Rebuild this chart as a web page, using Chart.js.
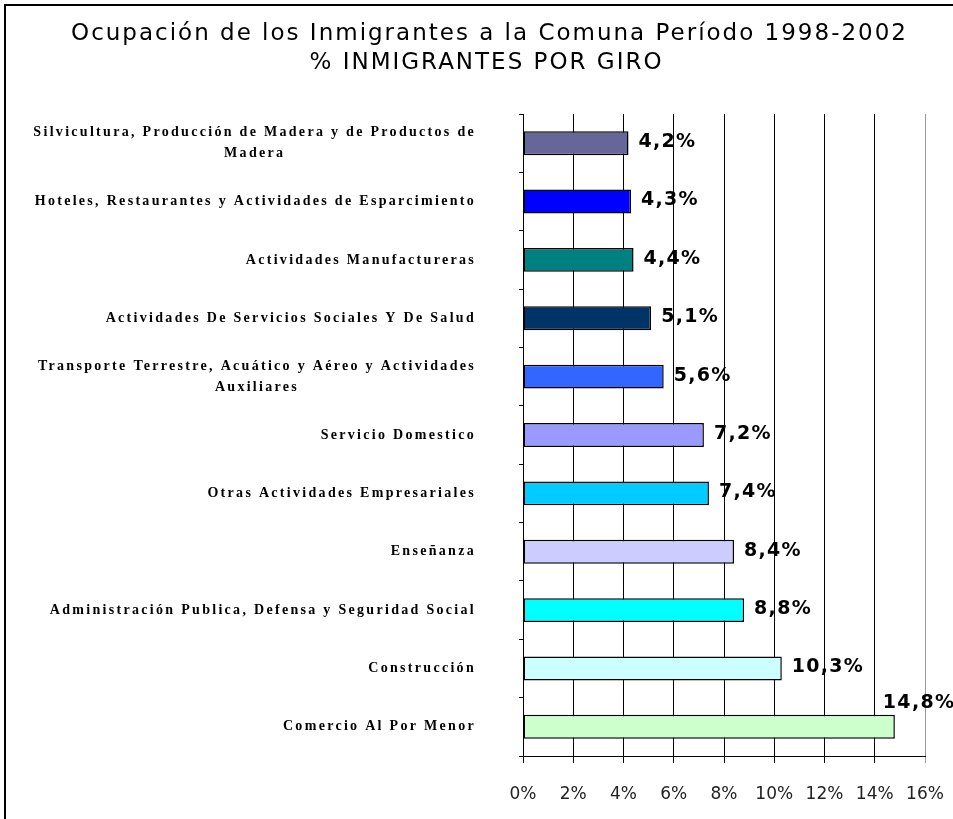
<!DOCTYPE html>
<html>
<head>
<meta charset="utf-8">
<script src="https://cdn.jsdelivr.net/npm/chart.js@4"></script>
<style>
    body { margin: 0; background: #fff; }
    #wrap { position: relative; width: 953px; height: 819px; }
</style>
</head>
<body>
<div id="wrap"><canvas id="myChart" width="953" height="819"></canvas></div>
<script>
"use strict";
var titulo = ["Ocupación de los Inmigrantes a la Comuna Período 1998-2002", "% INMIGRANTES POR GIRO"];
var giros = [
    ["Silvicultura, Producción de Madera y de Productos de", "Madera"],
    ["Hoteles, Restaurantes y Actividades de Esparcimiento"],
    ["Actividades Manufactureras"],
    ["Actividades De Servicios Sociales Y De Salud"],
    ["Transporte Terrestre, Acuático y Aéreo y Actividades", "Auxiliares"],
    ["Servicio Domestico"],
    ["Otras Actividades Empresariales"],
    ["Enseñanza"],
    ["Administración Publica, Defensa y Seguridad Social"],
    ["Construcción"],
    ["Comercio Al Por Menor"]
];
var porcentajes = [4.2, 4.3, 4.4, 5.1, 5.6, 7.2, 7.4, 8.4, 8.8, 10.3, 14.8];
var cores = ["#666699", "#0000FF", "#008080", "#003366", "#3366FF", "#9999FF",
    "#00CCFF", "#CCCCFF", "#00FFFF", "#CCFFFF", "#CCFFCC"];
var xTicks = [0, 2, 4, 6, 8, 10, 12, 14, 16];

// marco del grafico (solo se ven borde izquierdo y superior) y titulo espaciado
var marco = {
    id: 'marco',
    beforeDraw: function (chart) {
        var ctx = chart.ctx;
        ctx.save();
        ctx.fillStyle = '#fff';
        ctx.fillRect(0, 0, chart.width, chart.height);
        ctx.strokeStyle = '#000';
        ctx.lineWidth = 2;
        ctx.strokeRect(5, 5, chart.width + 20, chart.height + 20);
        ctx.font = '23px "DejaVu Sans"';
        ctx.letterSpacing = '2px';
        ctx.fillStyle = '#000';
        ctx.textAlign = 'center';
        ctx.textBaseline = 'middle';
        var cx = (chart.width + 26) / 2;
        ctx.fillText(titulo[0], cx, 34);
        ctx.fillText(titulo[1], cx - 3, 63);
        ctx.restore();
    }
};

// etiquetas de categorias, espaciadas como en la planilla
var etiquetasY = {
    id: 'etiquetasY',
    afterDraw: function (chart) {
        var ctx = chart.ctx;
        var y = chart.scales.y;
        var derecha = y.right - 47;
        ctx.save();
        ctx.font = 'bold 14px "Liberation Serif"';
        ctx.letterSpacing = '2.3px';
        ctx.fillStyle = '#000';
        ctx.textAlign = 'center';
        ctx.textBaseline = 'middle';
        for (var i = 0; i < giros.length; i++) {
            var lineas = giros[i];
            var ancho = 0;
            for (var j = 0; j < lineas.length; j++) {
                ancho = Math.max(ancho, ctx.measureText(lineas[j]).width);
            }
            var cy = y.getPixelForTick(i) - (lineas.length - 1) * 10.5;
            for (var j = 0; j < lineas.length; j++) {
                ctx.fillText(lineas[j], derecha - ancho / 2, cy + j * 21);
            }
        }
        ctx.restore();
    }
};

// valores al final de cada barra
var valores = {
    id: 'valores',
    afterDatasetsDraw: function (chart) {
        var ctx = chart.ctx;
        var meta = chart.getDatasetMeta(0);
        ctx.save();
        ctx.font = 'bold 19px "DejaVu Sans"';
        ctx.letterSpacing = '1.3px';
        ctx.fillStyle = '#000';
        ctx.textAlign = 'left';
        ctx.textBaseline = 'middle';
        meta.data.forEach(function (bar, i) {
            var txt = porcentajes[i].toFixed(1).replace('.', ',') + '%';
            var w = ctx.measureText(txt).width;
            var x = bar.x + 10;
            var yy = bar.y - 1;
            if (x + w > chart.width) {
                x = bar.x - 12;
                yy = bar.y - 24;
            }
            ctx.fillText(txt, x, yy);
        });
        ctx.restore();
    }
};

var ctx = document.getElementById('myChart').getContext('2d');
var chart = new Chart(ctx, {
    type: 'bar',
    data: {
        labels: giros.map(function (g) { return g.join(' '); }),
        datasets: [{
            data: porcentajes,
            backgroundColor: cores,
            borderColor: '#000',
            borderWidth: 1.5,
            borderSkipped: false,
            barPercentage: 0.82,
            categoryPercentage: 0.5
        }]
    },
    options: {
        indexAxis: 'y',
        responsive: false,
        animation: false,
        layout: { padding: { top: 114, left: 26, right: 28, bottom: 17 } },
        plugins: {
            legend: { display: false },
            tooltip: { enabled: false },
            title: { display: false }
        },
        scales: {
            x: {
                min: 0,
                max: 16,
                afterBuildTicks: function (s) {
                    s.ticks = xTicks.map(function (v) { return { value: v }; });
                },
                afterFit: function (s) {
                    s.height = 46;
                    s.paddingRight = 0;
                },
                ticks: {
                    color: '#222',
                    font: { family: 'DejaVu Sans', size: 17 },
                    padding: 21,
                    maxRotation: 0,
                    callback: function (v) { return v + '%'; }
                },
                grid: {
                    color: function (c) { return c.tick && c.tick.value === 16 ? '#999' : '#000'; },
                    lineWidth: 1,
                    tickLength: 7
                },
                border: { color: '#000', width: 1 }
            },
            y: {
                ticks: { display: false },
                afterFit: function (s) { s.width = 497; },
                grid: {
                    offset: true,
                    drawOnChartArea: false,
                    color: '#000',
                    tickLength: 4
                },
                border: { color: '#000', width: 1 }
            }
        }
    },
    plugins: [marco, etiquetasY, valores]
});
</script>
</body>
</html>
